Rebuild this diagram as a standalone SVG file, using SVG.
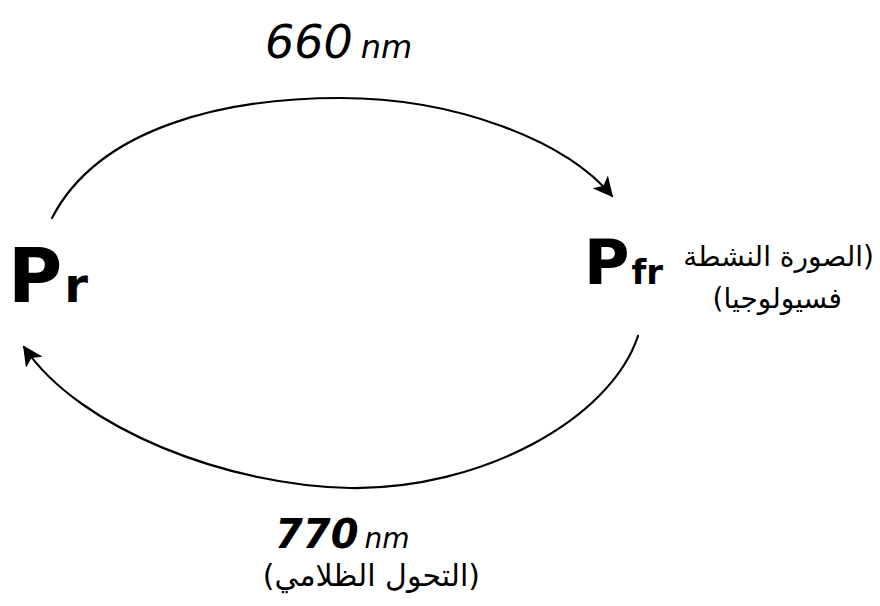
<svg xmlns="http://www.w3.org/2000/svg" width="880" height="606" viewBox="0 0 880 606">
<style>
.t{font-family:"DejaVu Sans","Liberation Sans",sans-serif;fill:#000}
.lat{font-style:italic}
.ar{font-family:"DejaVu Sans","Noto Sans",sans-serif;fill:#000}
.arc{fill:none;stroke:#000;stroke-width:2.2;stroke-linecap:round}
</style>
<defs>
<marker id="ah" viewBox="0 0 12 12" refX="11" refY="6" markerWidth="20" markerHeight="20" markerUnits="userSpaceOnUse" orient="auto">
<path d="M0,0 L12,6 L0,12 L3,6 Z" fill="#000"/>
</marker>
</defs>
<rect width="880" height="606" fill="#fff"/>
<g id="connectors">
<path class="arc" d="M 52 218 C 100 125, 230 98, 340 98 C 455 98, 565 140, 612 196" marker-end="url(#ah)"/>
<path class="arc" d="M 638 336 C 610 420, 480 490, 350 488 C 230 486, 80 430, 24 347" marker-end="url(#ah)"/>
</g>
<g id="label-660">
<text class="t lat" x="265" y="58" font-size="46">660<tspan font-size="32" dx="8">nm</tspan></text>
</g>
<g id="node-Pr">
<text class="t" x="8" y="302" font-size="74" font-weight="bold">P<tspan font-size="48" dx="2">r</tspan></text>
</g>
<g id="node-Pfr">
<text class="t" x="584" y="284" font-size="62" font-weight="bold">P<tspan font-size="34" dx="2">fr</tspan></text>
<text class="ar" x="874" y="266" font-size="28" direction="rtl" text-anchor="start">(الصورة النشطة</text>
<text class="ar" x="842" y="308" font-size="28" direction="rtl" text-anchor="start">فسيولوجيا)</text>
</g>
<g id="label-770">
<text class="t lat" x="275" y="548" font-size="40" font-weight="bold">770<tspan font-size="28" font-weight="normal" dx="6">nm</tspan></text>
<text class="ar" x="480" y="586" font-size="30" direction="rtl" text-anchor="start">(التحول الظلامي)</text>
</g>
</svg>
